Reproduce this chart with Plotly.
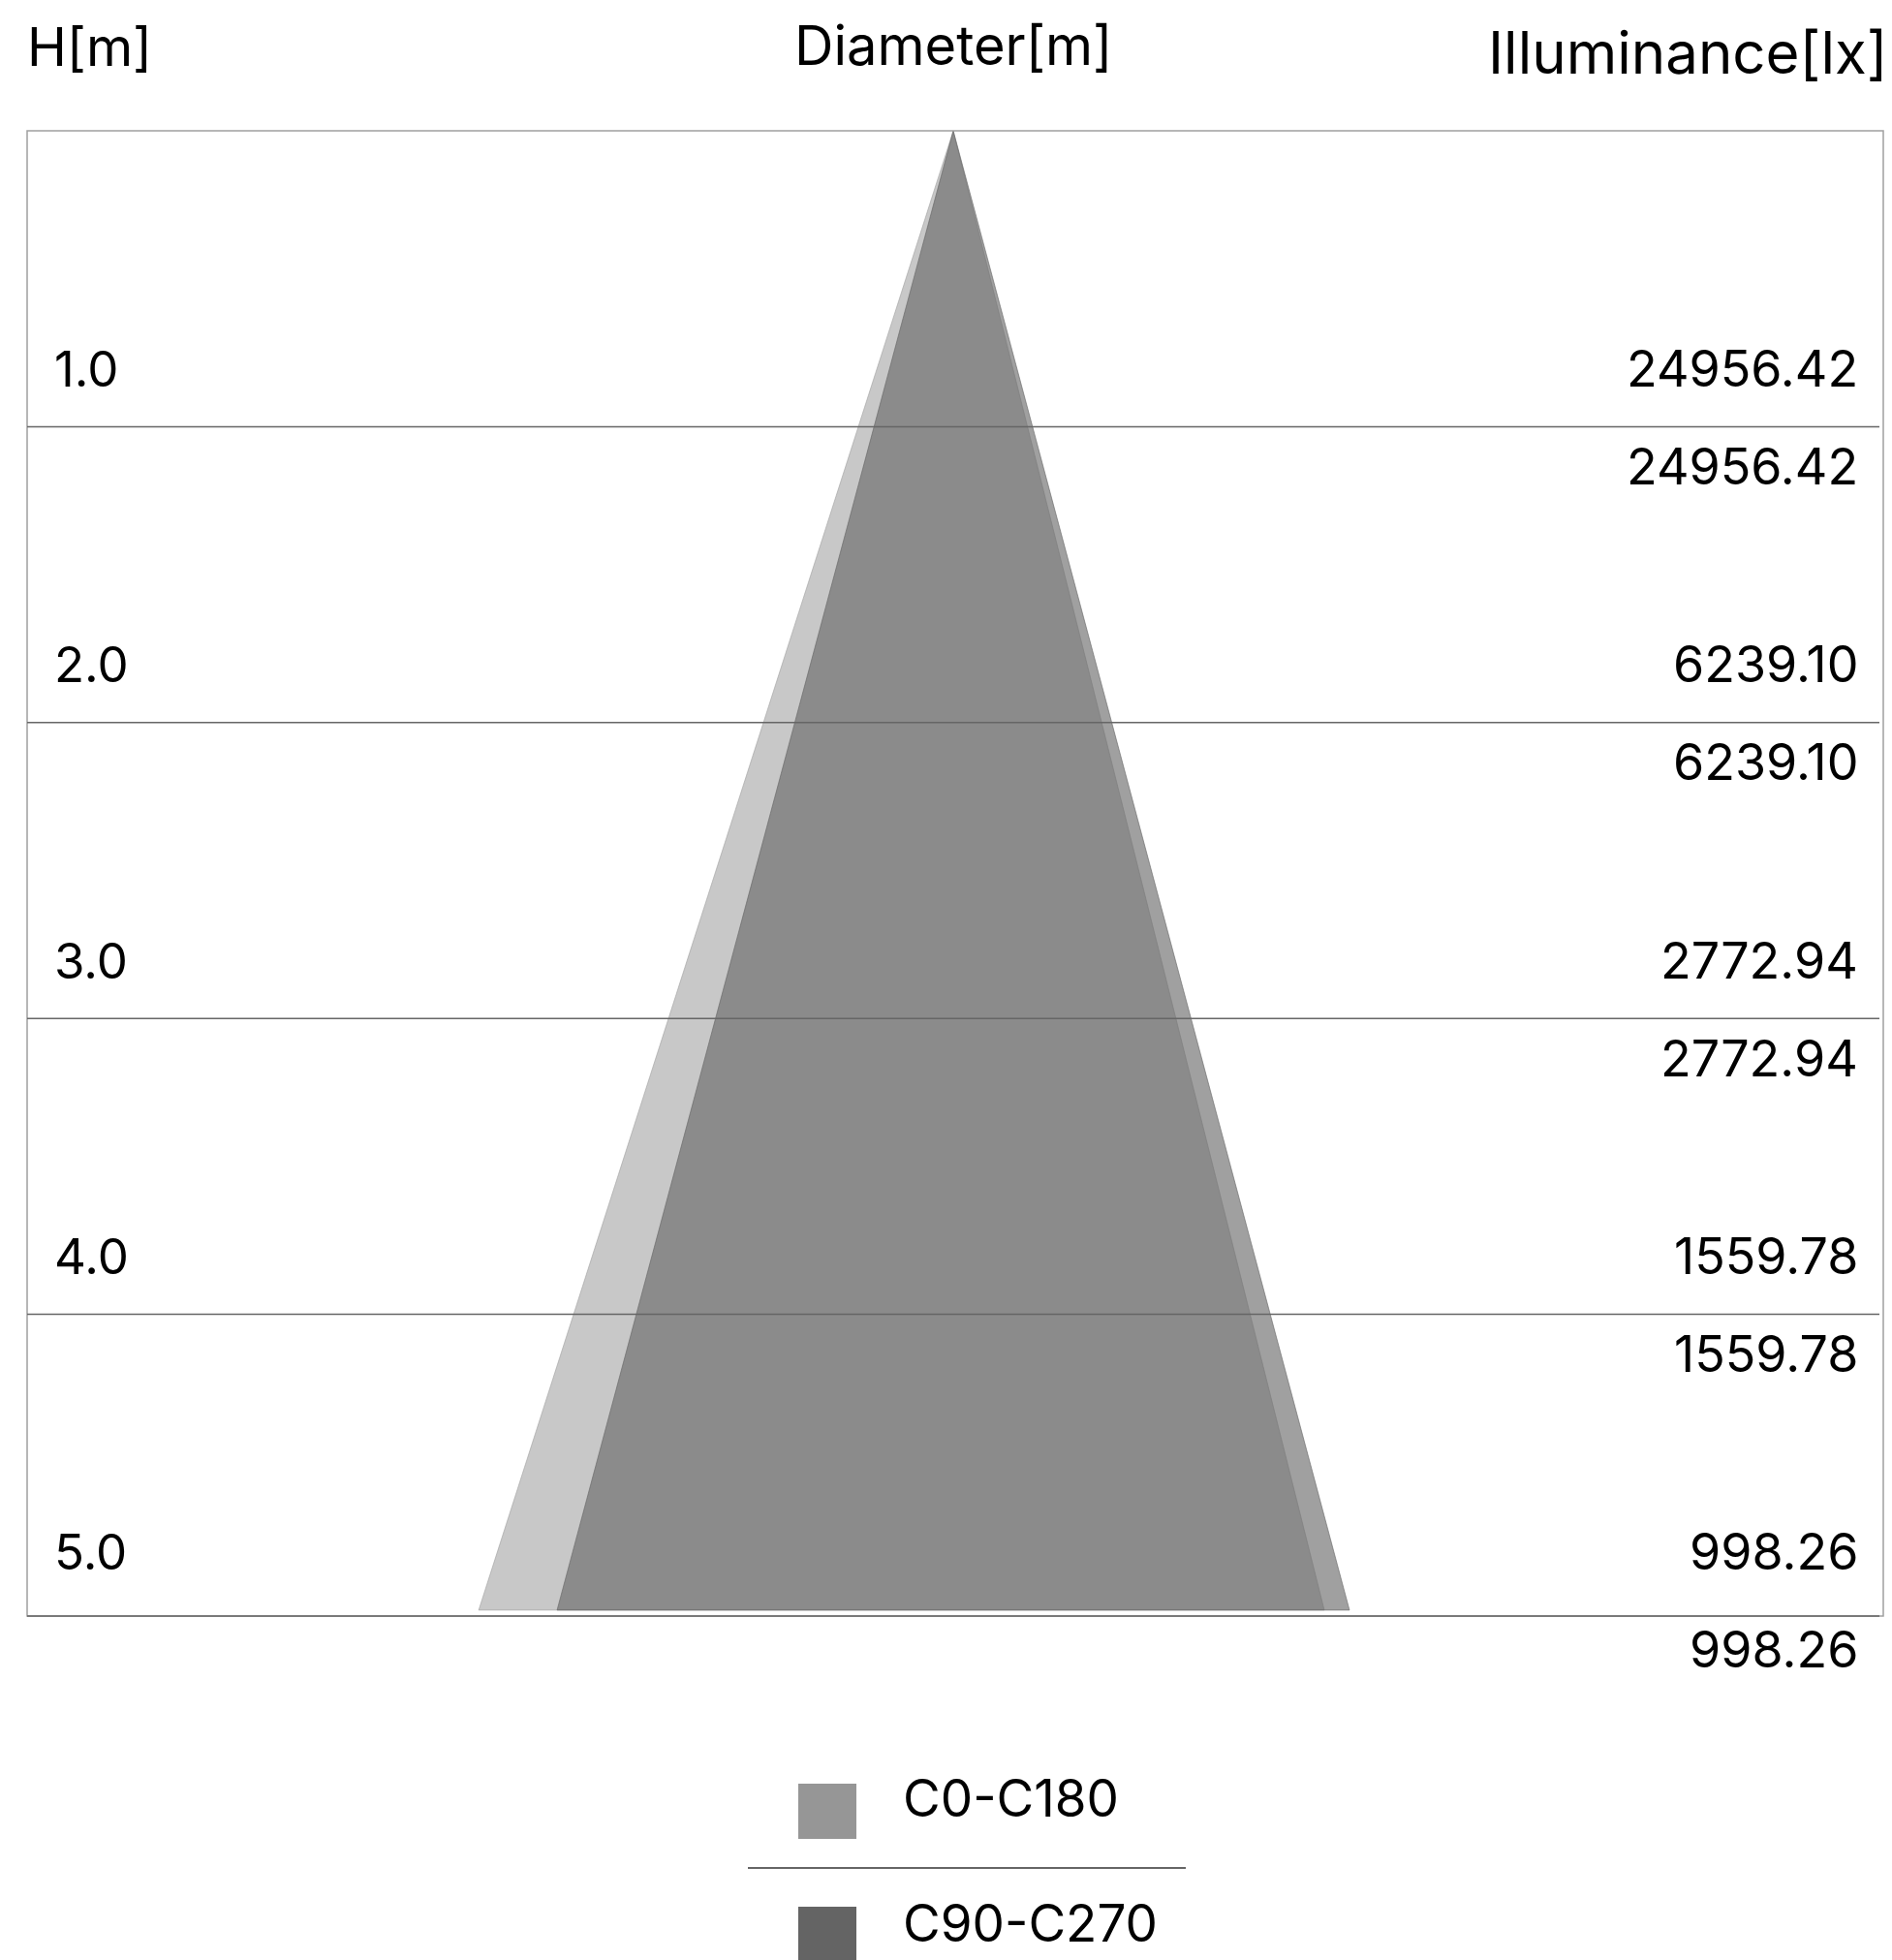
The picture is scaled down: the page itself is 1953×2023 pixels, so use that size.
import plotly.graph_objects as go

# ---- data ----
heights = [1, 2, 3, 4, 5]
h_labels = ["1.0", "2.0", "3.0", "4.0", "5.0"]
illum_c0_c180 = [24956.42, 6239.10, 2772.94, 1559.78, 998.26]
illum_c90_c270 = [24956.42, 6239.10, 2772.94, 1559.78, 998.26]
# half-width of the beam (m) at the largest height, per side
halfwidth_c0_c180 = {"left": 1.604, "right": 1.254}
halfwidth_c90_c270 = {"left": 1.339, "right": 1.339}
series_names = ["C0-C180", "C90-C270"]
legend_colors = ["#969696", "#646464"]
fill_colors = ["rgba(150,150,150,0.524)", "rgba(100,100,100,0.613)"]

W, H = 1953, 2023
L, R, T, B = 28, 1944, 135, 1668
FONT = "Inter"


def px(x):
    return (x - L) / (R - L)


def py(y):
    return (B - y) / (B - T)


hmax = max(heights)
fig = go.Figure()
for name, hw, fc in zip(series_names, [halfwidth_c0_c180, halfwidth_c90_c270], fill_colors):
    fig.add_trace(go.Scatter(
        x=[0, -hw["left"], hw["right"], 0],
        y=[0, hmax, hmax, 0],
        mode="lines", fill="toself", fillcolor=fc,
        line=dict(color=fc, width=1), name=name, showlegend=False,
        hoverinfo="skip"))

shapes = []
# frame
shapes.append(dict(type="rect", xref="paper", yref="paper", x0=0, x1=1, y0=0, y1=1,
                   line=dict(color="#a0a0a0", width=1.5), layer="above"))
# height lines
for h in heights[:-1]:
    shapes.append(dict(type="line", xref="paper", yref="y", x0=0, x1=px(1940), y0=h, y1=h,
                       line=dict(color="#666666", width=1.5), layer="above"))
shapes.append(dict(type="line", xref="paper", yref="paper", x0=0, x1=px(1940), y0=0, y1=0,
                   line=dict(color="#666666", width=1.5), layer="above"))

annotations = []
for h, lab, v0, v1 in zip(heights, h_labels, illum_c0_c180, illum_c90_c270):
    annotations.append(dict(x=px(54), xref="paper", y=h, yref="y", text=lab, showarrow=False,
                            xanchor="left", align="left", yanchor="middle", yshift=60,
                            font=dict(family=FONT, size=51, color="#000")))
    annotations.append(dict(x=px(1920), xref="paper", y=h, yref="y", text=f"{v0:.2f}", showarrow=False,
                            xanchor="right", align="right", yanchor="middle", yshift=60,
                            font=dict(family=FONT, size=52, color="#000")))
    annotations.append(dict(x=px(1920), xref="paper", y=h, yref="y", text=f"{v1:.2f}", showarrow=False,
                            xanchor="right", align="right", yanchor="middle", yshift=-41,
                            font=dict(family=FONT, size=52, color="#000")))

# titles
annotations.append(dict(x=px(26), xref="paper", y=py(48), yref="paper", text="H[m]", showarrow=False,
                        xanchor="left", align="left", yanchor="middle",
                        font=dict(family=FONT, size=55, color="#000")))
annotations.append(dict(x=px(984), xref="paper", y=py(47), yref="paper", text="Diameter[m]", showarrow=False,
                        xanchor="center", yanchor="middle", font=dict(family=FONT, size=56, color="#000")))
annotations.append(dict(x=px(1951), xref="paper", y=py(54), yref="paper", text="Illuminance[lx]", showarrow=False,
                        xanchor="right", align="right", yanchor="middle",
                        font=dict(family=FONT, size=60, color="#000")))

# legend (custom)
leg_rows = [(1841, 1898, 1856), (1968, 2030, 1985)]
for (y0, y1, yc), name, col in zip(leg_rows, series_names, legend_colors):
    shapes.append(dict(type="rect", xref="paper", yref="paper", x0=px(824), x1=px(884),
                       y0=py(y1), y1=py(y0), fillcolor=col, line=dict(width=0)))
    annotations.append(dict(x=px(930), xref="paper", y=py(yc), yref="paper", text=name, showarrow=False,
                            xanchor="left", align="left", yanchor="middle",
                            font=dict(family=FONT, size=53, color="#000")))
shapes.append(dict(type="line", xref="paper", yref="paper", x0=px(772), x1=px(1224), y0=py(1928), y1=py(1928),
                   line=dict(color="#666666", width=2)))

fig.update_layout(
    width=W, height=H, autosize=False,
    margin=dict(l=L, r=W - R, t=T, b=H - B, pad=0),
    paper_bgcolor="white", plot_bgcolor="white",
    xaxis=dict(range=[-3.130, 3.143], visible=False, fixedrange=True),
    yaxis=dict(range=[5.02, 0], visible=False, fixedrange=True),
    shapes=shapes, annotations=annotations, showlegend=False,
)

fig.write_html("out.html", config={"displayModeBar": False},
               post_script="document.body.style.margin='0';document.body.style.overflow='hidden';")
